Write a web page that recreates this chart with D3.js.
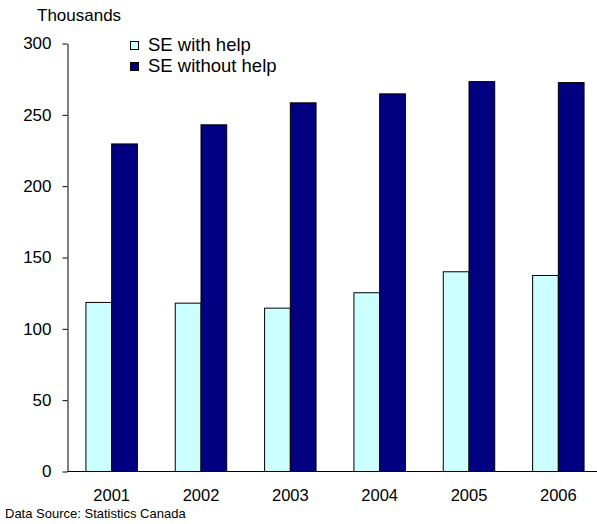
<!DOCTYPE html>
<html>
<head>
<meta charset="utf-8">
<script src="https://cdn.jsdelivr.net/npm/d3@7"></script>
<style>
  html, body { margin: 0; padding: 0; background: #fff; }
  svg { display: block; font-family: "Liberation Sans", Arial, sans-serif; }
</style>
</head>
<body>
<svg id="chart" width="597" height="524"></svg>
<script>
// Self-employment, with and without paid help (thousands)
const years = ["2001", "2002", "2003", "2004", "2005", "2006"];
const seriesNames = ["SE with help", "SE without help"];
const withHelp = [118.5, 118, 114.5, 125.3, 140, 137.4];
const withoutHelp = [229.6, 243, 258.4, 264.7, 273.3, 272.6];
const yTicks = [0, 50, 100, 150, 200, 250, 300];
const colors = ["#CCFFFF", "#000080"];

const rows = years.map((yr, i) => ({ year: yr, values: [withHelp[i], withoutHelp[i]] }));

const svg = d3.select("#chart");
const plotLeft = 67.5, plotRight = 603, plotTop = 43.5, plotBottom = 471.5;

const x0 = d3.scaleBand().domain(years).range([67, plotRight])
  .paddingInner(0.424).paddingOuter(0.212);
const x1 = d3.scaleBand().domain(seriesNames).range([0, x0.bandwidth()]);
const y = d3.scaleLinear().domain([0, 300]).range([plotBottom, plotTop]);

// Bars
const groups = svg.append("g").selectAll("g").data(rows).join("g")
  .attr("transform", d => `translate(${x0(d.year)},0)`);
groups.selectAll("rect")
  .data(d => d.values.map((v, k) => ({ key: seriesNames[k], value: v, k })))
  .join("rect")
  .attr("x", d => x1(d.key))
  .attr("y", d => y(d.value))
  .attr("width", x1.bandwidth())
  .attr("height", d => y(0) - y(d.value))
  .attr("fill", d => colors[d.k])
  .attr("stroke", "#000")
  .attr("stroke-width", 1);

// Y axis
const yAxis = svg.append("g")
  .attr("transform", `translate(${plotLeft},0)`)
  .call(d3.axisLeft(y).tickValues(yTicks).tickSize(5).tickPadding(11).tickSizeOuter(0));
yAxis.select(".domain").attr("stroke", "#000");
yAxis.selectAll(".tick line").attr("stroke", "#000");
yAxis.selectAll(".tick text")
  .attr("font-size", 17).attr("fill", "#000")
  .attr("font-family", "'Liberation Sans', Arial, sans-serif");

// X axis (baseline only, labels below)
const xAxis = svg.append("g")
  .attr("transform", `translate(0,${plotBottom})`)
  .call(d3.axisBottom(x0).tickSize(0).tickPadding(18).tickSizeOuter(0));
xAxis.select(".domain").attr("stroke", "#000").attr("d", `M${plotLeft},0H${plotRight}`);
xAxis.selectAll(".tick text")
  .attr("font-size", 16.5).attr("fill", "#000")
  .attr("font-family", "'Liberation Sans', Arial, sans-serif");

// Unit label
svg.append("text").attr("x", 37).attr("y", 21)
  .attr("font-size", 17).attr("fill", "#000").text("Thousands");

// Legend
const legend = svg.append("g").selectAll("g").data(seriesNames).join("g")
  .attr("transform", (d, i) => `translate(130,${41 + i * 21})`);
legend.append("rect")
  .attr("x", 0.5).attr("y", 0.5).attr("width", 8).attr("height", 8)
  .attr("fill", (d, i) => colors[i]).attr("stroke", "#000").attr("stroke-width", 1);
legend.append("text")
  .attr("x", 18).attr("y", 10)
  .attr("font-size", 18.5).attr("fill", "#000").text(d => d);

// Source note
svg.append("text").attr("x", 5).attr("y", 518)
  .attr("font-size", 13).attr("fill", "#000").text("Data Source: Statistics Canada");
</script>
</body>
</html>
